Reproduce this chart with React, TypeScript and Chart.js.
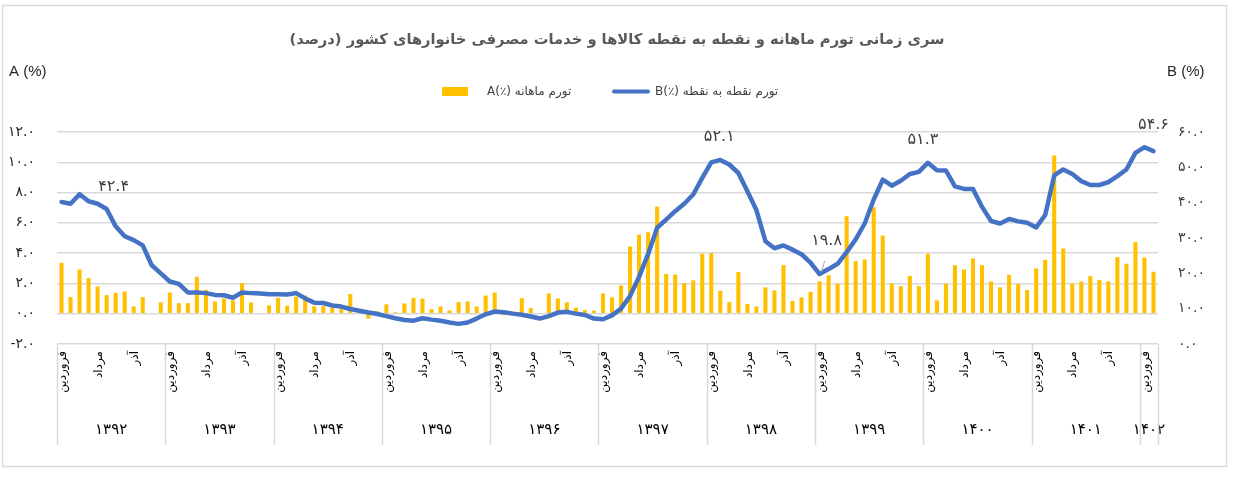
import React, { useEffect, useRef } from "react";
import { Chart, registerables } from "chart.js";

Chart.register(...registerables);

// ---- data ----
const years = ["۱۳۹۲", "۱۳۹۳", "۱۳۹۴", "۱۳۹۵", "۱۳۹۶", "۱۳۹۷", "۱۳۹۸", "۱۳۹۹", "۱۴۰۰", "۱۴۰۱", "۱۴۰۲"];
const monthsInYear = [12, 12, 12, 12, 12, 12, 12, 12, 12, 12, 2];
const monthNames = ["فروردین", "اردیبهشت", "خرداد", "تیر", "مرداد", "شهریور", "مهر", "آبان", "آذر", "دی", "بهمن", "اسفند"];
const shownMonths = [0, 4, 8]; // فروردین، مرداد، آذر

const monthlyA = [
  3.36, 1.1, 2.92, 2.35, 1.8, 1.23, 1.38, 1.47, 0.48, 1.1, 0.05, 0.75,
  1.4, 0.7, 0.7, 2.44, 1.58, 0.81, 1.0, 0.88, 2.02, 0.75, 0.05, 0.55,
  1.05, 0.53, 1.12, 1.2, 0.5, 0.5, 0.4, 0.3, 1.3, 0.25, -0.33, 0.15,
  0.62, 0.1, 0.68, 1.05, 1.0, 0.3, 0.48, 0.22, 0.77, 0.81, 0.48, 1.2,
  1.4, -0.1, 0.13, 1.03, 0.37, 0.0, 1.34, 1.01, 0.75, 0.4, 0.24, 0.2,
  1.34, 1.08, 1.87, 4.44, 5.23, 5.38, 7.08, 2.62, 2.59, 2.02, 2.2, 3.96,
  4.0, 1.52, 0.77, 2.75, 0.64, 0.48, 1.74, 1.54, 3.21, 0.84, 1.08, 1.45,
  2.13, 2.53, 1.98, 6.44, 3.47, 3.58, 7.03, 5.16, 2.0, 1.82, 2.5, 1.82,
  3.96, 0.88, 1.98, 3.21, 2.92, 3.65, 3.21, 2.13, 1.74, 2.57, 1.96, 1.56,
  2.99, 3.56, 10.44, 4.31, 2.0, 2.13, 2.48, 2.22, 2.13, 3.74, 3.3, 4.73,
  3.71, 2.77,
];

const pointB = [
  40.2, 39.7, 42.4, 40.4, 39.7, 38.2, 33.3, 30.5, 29.4, 27.9, 22.3, 20.0,
  17.7, 17.0, 14.6, 14.6, 14.4, 13.9, 13.8, 13.1, 14.6, 14.4, 14.3, 14.1,
  14.1, 14.0, 14.4, 12.9, 11.7, 11.6, 10.9, 10.6, 9.9, 9.4, 8.9, 8.5,
  7.9, 7.3, 6.8, 6.6, 7.3, 6.9, 6.6, 6.1, 5.7, 6.1, 7.2, 8.4,
  9.2, 9.0, 8.6, 8.3, 7.8, 7.2, 7.9, 8.9, 9.1, 8.6, 8.2, 7.2,
  7.0, 8.1, 10.0, 13.6, 19.0, 25.5, 32.9, 35.2, 37.6, 39.7, 42.3, 47.0,
  51.4, 52.1, 50.8, 48.4, 43.2, 37.9, 29.1, 27.1, 27.9, 26.7, 25.4, 23.0,
  19.8, 21.2, 22.7, 26.0, 29.6, 34.1, 40.9, 46.5, 44.8, 46.2, 48.1, 48.7,
  51.3, 49.2, 49.1, 44.6, 43.9, 43.9, 38.8, 34.8, 34.1, 35.4, 34.7, 34.3,
  33.0, 36.5, 47.7, 49.4, 48.1, 46.1, 45.0, 45.0, 45.8, 47.5, 49.4, 54.1,
  55.7, 54.6,
];

// labelled points of series B: [index, dx, dy, leader]
const labelledB = [
  [2, 34, -7, false],
  [73, -1, -23, false],
  [84, 7, -33, true],
  [96, -5, -23, false],
  [121, 0, -26, false],
];

const titleText = "سری زمانی تورم ماهانه و نقطه به نقطه کالاها و خدمات مصرفی خانوارهای کشور (درصد)";
const legendA = "A(٪) تورم ماهانه";
const legendB = "B(٪) تورم نقطه به نقطه";

const categories: string[] = [];
years.forEach((y, yi) => {
  for (let m = 0; m < monthsInYear[yi]; m++) categories.push(monthNames[m] + " " + y);
});

const FA = "۰۱۲۳۴۵۶۷۸۹";
const toFa = (v: number, d = 1) =>
  v.toFixed(d).replace(/[0-9]/g, (c) => FA[Number(c)]);

const FONT = "'DejaVu Sans', sans-serif";
const BAR_COLOR = "#FFC000";
const LINE_COLOR = "#4472C4";
const GRID = "#d9d9d9";

const decor = {
  id: "decor",
  beforeDraw(chart: any) {
    const { ctx } = chart;
    ctx.save();
    ctx.fillStyle = "#fff";
    ctx.fillRect(0, 0, chart.width, chart.height);
    ctx.strokeStyle = GRID;
    ctx.lineWidth = 1.5;
    ctx.strokeRect(2.5, 5.5, 1224, 461);
    ctx.restore();
  },
  afterDraw(chart: any) {
    const { ctx, chartArea } = chart;
    const x = chart.scales.x;
    const yB = chart.scales.yB;
    ctx.save();

    // title
    ctx.direction = "rtl";
    ctx.fillStyle = "#595959";
    ctx.textAlign = "center";
    ctx.textBaseline = "middle";
    ctx.font = `bold 16px ${FONT}`;
    const w = ctx.measureText(titleText).width;
    const fs = Math.min(18, (16 * 655) / w);
    ctx.font = `bold ${fs.toFixed(2)}px ${FONT}`;
    ctx.fillText(titleText, 617, 40);

    // axis titles
    ctx.direction = "ltr";
    ctx.fillStyle = "#262626";
    ctx.font = `15px 'Liberation Sans', sans-serif`;
    ctx.textAlign = "left";
    ctx.fillText("A (%)", 9, 72);
    ctx.fillText("B (%)", 1167, 72);

    // legend
    ctx.fillStyle = BAR_COLOR;
    ctx.fillRect(442, 87, 26, 9);
    ctx.strokeStyle = LINE_COLOR;
    ctx.lineWidth = 4;
    ctx.lineCap = "round";
    ctx.beginPath();
    ctx.moveTo(614, 91.5);
    ctx.lineTo(648, 91.5);
    ctx.stroke();
    ctx.direction = "ltr";
    ctx.fillStyle = "#404040";
    ctx.font = `12px ${FONT}`;
    ctx.textAlign = "left";
    ctx.fillText(legendA, 487, 92);
    ctx.fillText(legendB, 655, 92);

    // multi-level category axis
    const step = x.getPixelForValue(1) - x.getPixelForValue(0);
    const bottom = chartArea.bottom;
    ctx.strokeStyle = GRID;
    ctx.lineWidth = 1.5;
    ctx.lineCap = "butt";
    let idx = 0;
    const bounds: number[] = [];
    years.forEach((y, yi) => {
      bounds.push(x.getPixelForValue(idx) - step / 2);
      shownMonths.forEach((m) => {
        if (m < monthsInYear[yi]) {
          const cx = x.getPixelForValue(idx + m);
          ctx.save();
          ctx.translate(cx + 1, bottom + 7);
          ctx.rotate(-Math.PI / 2);
          ctx.fillStyle = "#000";
          ctx.font = `12px ${FONT}`;
          ctx.textAlign = "right";
          ctx.textBaseline = "middle";
          ctx.fillText(monthNames[m], 0, 0);
          ctx.restore();
        }
      });
      const x0 = x.getPixelForValue(idx) - step / 2;
      const x1 = x.getPixelForValue(idx + monthsInYear[yi] - 1) + step / 2;
      ctx.fillStyle = "#000";
      ctx.font = `15px ${FONT}`;
      ctx.textAlign = "center";
      ctx.textBaseline = "middle";
      ctx.fillText(y, (x0 + x1) / 2, bottom + 86);
      idx += monthsInYear[yi];
    });
    bounds.push(x.getPixelForValue(idx - 1) + step / 2);
    bounds.forEach((bx) => {
      ctx.beginPath();
      ctx.moveTo(Math.round(bx) + 0.5, bottom);
      ctx.lineTo(Math.round(bx) + 0.5, bottom + 101);
      ctx.stroke();
    });

    // data labels
    ctx.font = `16px ${FONT}`;
    ctx.fillStyle = "#404040";
    ctx.textAlign = "center";
    ctx.textBaseline = "middle";
    labelledB.forEach(([i, dx, dy, leader]: any) => {
      const px = x.getPixelForValue(i);
      const py = yB.getPixelForValue(pointB[i]);
      ctx.fillText(toFa(pointB[i]), px + dx, py + dy);
      if (leader) {
        ctx.strokeStyle = "#a6a6a6";
        ctx.lineWidth = 1;
        ctx.beginPath();
        ctx.moveTo(px + 5, py - 13);
        ctx.lineTo(px + 2, py - 2);
        ctx.stroke();
      }
    });
    ctx.restore();
  },
};

export default function App() {
  const ref = useRef<HTMLCanvasElement>(null);
  useEffect(() => {
    if (!ref.current) return;
    const chart = new Chart(ref.current, {
      type: "bar",
      data: {
        labels: categories,
        datasets: [
          {
            type: "line",
            label: legendB,
            data: pointB,
            yAxisID: "yB",
            borderColor: LINE_COLOR,
            backgroundColor: LINE_COLOR,
            borderWidth: 4.5,
            pointRadius: 0,
            tension: 0,
            borderJoinStyle: "round",
            borderCapStyle: "round",
            order: 0,
          } as any,
          {
            type: "bar",
            label: legendA,
            data: monthlyA,
            yAxisID: "yA",
            backgroundColor: BAR_COLOR,
            barPercentage: 0.45,
            categoryPercentage: 1,
            order: 1,
          },
        ],
      },
      options: {
        responsive: false,
        animation: false,
        devicePixelRatio: 1,
        layout: { padding: { top: 132, left: 0, right: 0, bottom: 0 } },
        plugins: {
          legend: { display: false },
          title: { display: false },
          tooltip: { enabled: false },
        },
        scales: {
          x: {
            type: "category",
            offset: true,
            grid: { display: false },
            border: { display: false },
            ticks: { display: false },
            afterFit: (s: any) => {
              s.height = 148;
            },
          },
          yA: {
            position: "left",
            min: -2,
            max: 12,
            ticks: {
              stepSize: 2,
              padding: 22,
              color: "#262626",
              font: { family: FONT, size: 14 },
              callback: (v: any) => toFa(Number(v)),
            },
            grid: { color: GRID, lineWidth: 1.5, drawTicks: false },
            border: { display: false },
            afterFit: (s: any) => {
              s.width = 57;
            },
          },
          yB: {
            position: "right",
            min: 0,
            max: 60,
            ticks: {
              stepSize: 10,
              padding: 20,
              color: "#404040",
              font: { family: FONT, size: 14 },
              callback: (v: any) => toFa(Number(v)),
            },
            grid: { display: false, drawTicks: false },
            border: { display: false },
            afterFit: (s: any) => {
              s.width = 81;
            },
          },
        },
      },
      plugins: [decor],
    });
    return () => chart.destroy();
  }, []);
  return (
    <div style={{ position: "absolute", left: 0, top: 0, width: 1239, height: 492, background: "#fff" }}>
      <canvas ref={ref} width={1239} height={492} style={{ width: 1239, height: 492, display: "block" }} />
    </div>
  );
}
